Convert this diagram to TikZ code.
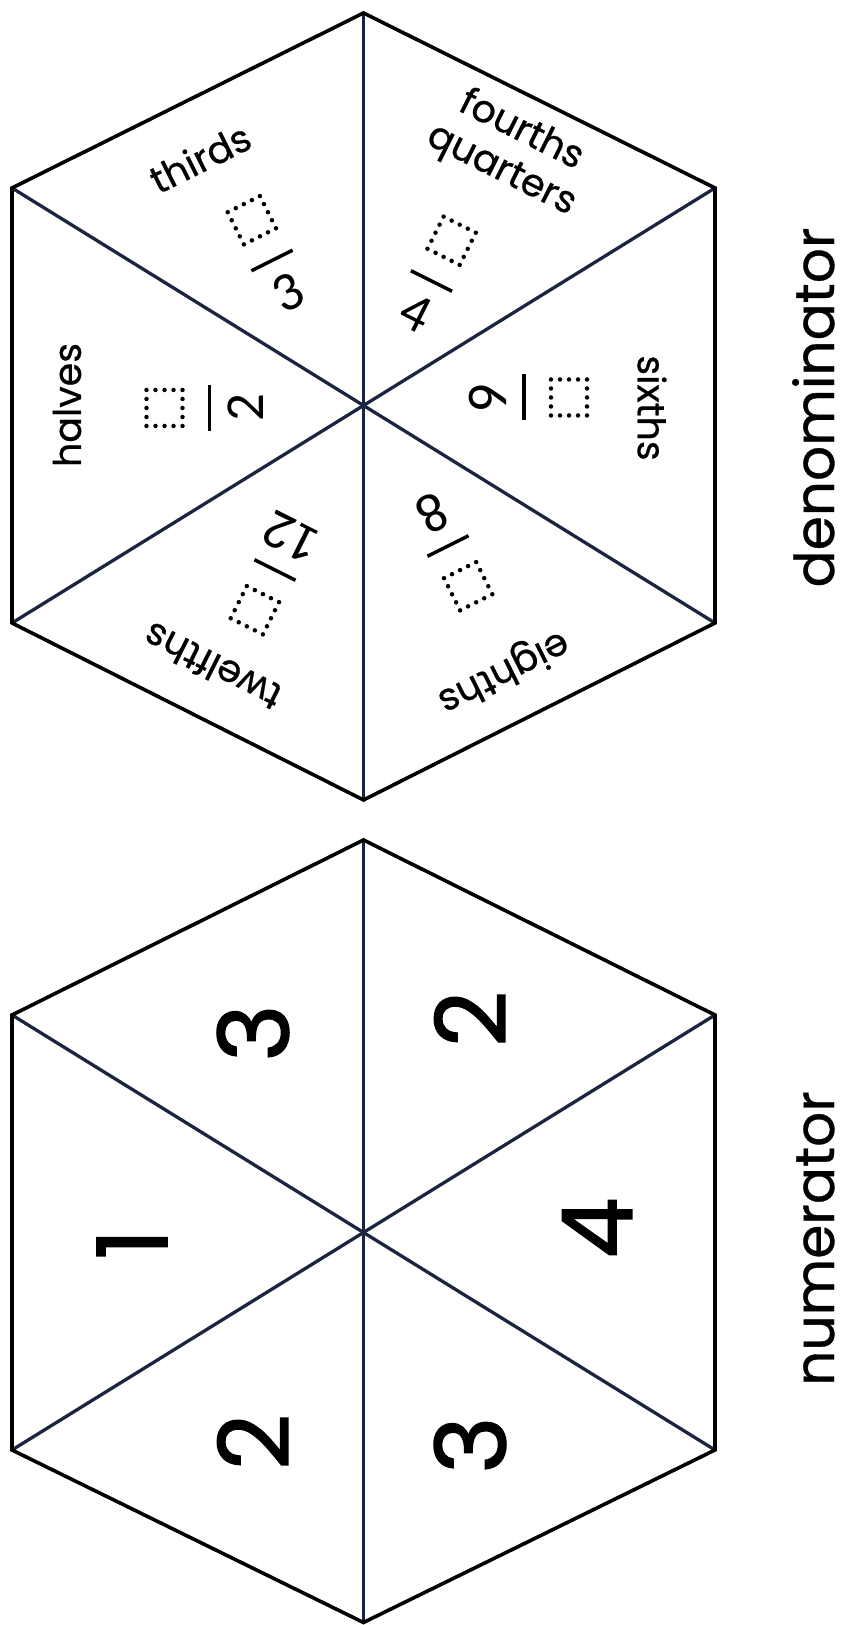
\documentclass[tikz,border=0pt]{standalone}
\usepackage{fontspec}
\setmainfont{Poppins}
\newfontfamily\fracfont{Carlito}
\newfontfamily\digfont[FakeBold=1.6]{Poppins}
\newfontfamily\lblfont[FakeBold=0.6]{Poppins}
\definecolor{navy}{HTML}{1B2440}
\tikzset{
  outer/.style={draw=black, line width=3.6pt, line join=miter},
  spoke/.style={draw=navy, line width=3.3pt},
  lbl/.style={inner sep=0pt, font=\lblfont\fontsize{38}{44}\selectfont, align=center},
  bigword/.style={inner sep=0pt, font=\lblfont\fontsize{55}{60}\selectfont, rotate=90, anchor=base},
  numdigit/.style={inner sep=0pt, font=\digfont\fontsize{97}{100}\selectfont, rotate=90},
  fdig/.style={inner sep=0pt, font=\fracfont\fontsize{55}{56}\selectfont},
  dsq/.style={draw, inner sep=0pt, minimum size=36pt, line width=4.5pt, dash pattern=on 0pt off 9pt, line cap=round},
  fbar/.style={line width=3.5pt},
}
\newcommand\myfrac[4]{%
  \begin{scope}[shift={#2}, rotate=#3, transform shape]
    \node[dsq] (#1sq) at (0,45) {};
    \coordinate (#1a) at (-23,0);
    \coordinate (#1b) at (23,0);
    \draw[fbar] (#1a) -- (#1b);
    \node[fdig] (#1den) at (0,-36) {#4};
  \end{scope}}
\begin{document}
\begin{tikzpicture}[x=1pt,y=1pt]
\useasboundingbox (0,0) rectangle (841,1625);
% denominator hexagon
\coordinate (dT) at (363.5,1612);
\coordinate (dUL) at (12,1437);
\coordinate (dLL) at (12,1002);
\coordinate (dB) at (363.5,825);
\coordinate (dLR) at (715,1002);
\coordinate (dUR) at (715,1437);
\coordinate (dC) at (363.5,1219);
\draw[spoke] (dT) -- (dB);
\draw[spoke] (dUL) -- (dLR);
\draw[spoke] (dLL) -- (dUR);
\draw[outer] (dT) -- (dUR) -- (dLR) -- (dB) -- (dLL) -- (dUL) -- cycle;
% numerator hexagon
\coordinate (nT) at (363.5,785);
\coordinate (nUL) at (12,610);
\coordinate (nLL) at (12,175);
\coordinate (nB) at (363.5,2.5);
\coordinate (nLR) at (715,175);
\coordinate (nUR) at (715,610);
\coordinate (nC) at (363.5,392.5);
\draw[spoke] (nT) -- (nB);
\draw[spoke] (nUL) -- (nLR);
\draw[spoke] (nLL) -- (nUR);
\draw[outer] (nT) -- (nUR) -- (nLR) -- (nB) -- (nLL) -- (nUL) -- cycle;
% denominator labels
\node[lbl, rotate=26.6] (thirds) at (200,1467) {thirds};
\node[lbl, rotate=-26.6] (fourths) at (511,1474) {fourths\\quarters};
\node[lbl, rotate=90] (halves) at (67,1220) {halves};
\node[lbl, rotate=-90] (sixths) at (652,1217) {sixths};
\node[lbl, rotate=153.4] (twelfths) at (212,958) {twelfths};
\node[lbl, rotate=-153.4] (eighths) at (503,954) {eighths};
% fractions
\myfrac{fa}{(272,1364.5)}{26.6}{3}
\myfrac{fb}{(431.5,1344)}{-26.6}{4}
\myfrac{fc}{(209.5,1217)}{90}{2}
\myfrac{fd}{(524,1227.5)}{-90}{6}
\myfrac{fe}{(275,1055)}{153.4}{12}
\myfrac{ff}{(448,1079)}{-153.4}{8}
% numerator digits
\node[numdigit] (n1) at (253,592) {3};
\node[numdigit] (n2) at (470,606) {2};
\node[numdigit] (n3) at (132,381) {1};
\node[numdigit] (n4) at (597,397) {4};
\node[numdigit] (n5) at (253,183) {2};
\node[numdigit] (n6) at (470,180) {3};
% headings
\node[bigword] (den) at (834,1217.5) {denominator};
\node[bigword] (num) at (834,386.5) {numerator};
\end{tikzpicture}
\end{document}
